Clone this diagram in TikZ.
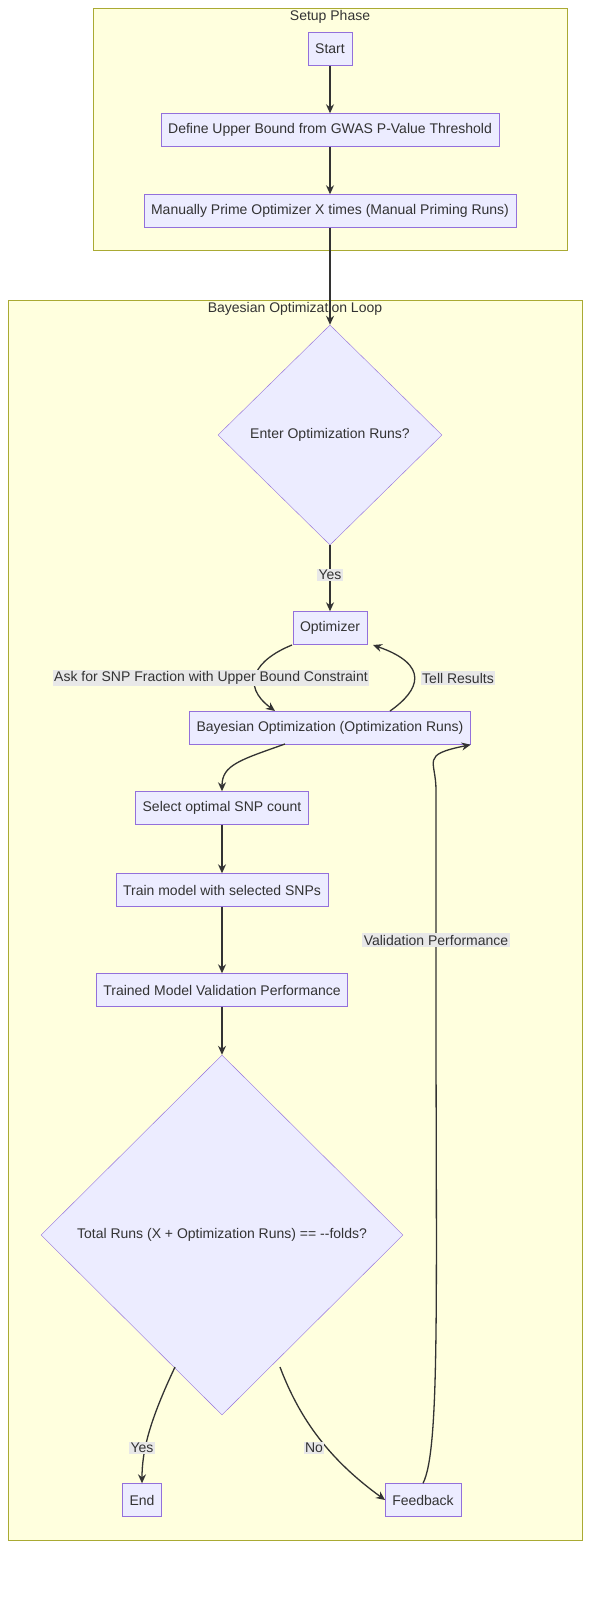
\documentclass[tikz,border=0pt]{standalone}
\usepackage{fontspec}
\setmainfont{Liberation Sans}
\usetikzlibrary{shapes.geometric,arrows.meta}
\definecolor{clf}{HTML}{FFFFDE}\definecolor{clb}{HTML}{AAAA33}
\definecolor{ndf}{HTML}{ECECFF}\definecolor{ndb}{HTML}{9370DB}
\definecolor{ln}{HTML}{333333}\definecolor{lbg}{HTML}{E8E8E8}
\begin{document}
\begin{tikzpicture}[x=1pt,y=-1pt,
  every node/.style={font=\fontsize{14}{16}\selectfont,text=ln},
  box/.style={draw=ndb,fill=ndf,minimum height=33pt,inner xsep=7pt},
  dia/.style={draw=ndb,fill=ndf,diamond,aspect=1,inner sep=0pt},
  clus/.style={draw=clb,fill=clf},
  lbl/.style={fill=lbg,inner sep=1.5pt},
  arr/.style={draw=ln,line width=1.3pt,-{Stealth[length=9pt,width=8pt]}}]
\useasboundingbox (0,0) rectangle (611,1602);
\draw[clus] (93,8) rectangle (567,250);
\node at (330,17) {Setup Phase};
\draw[clus] (8,300) rectangle (582,1540);
\node at (295,309) {Bayesian Optimization Loop};
\node[box] (start) at (330,49) {Start};
\node[box] (def) at (330,130) {Define Upper Bound from GWAS P-Value Threshold};
\node[box] (prime) at (330,211) {Manually Prime Optimizer X times (Manual Priming Runs)};
\node[dia,minimum width=224pt,minimum height=220pt] (d1) at (330,435) {Enter Optimization Runs?};
\node[box] (opt) at (330,628) {Optimizer};
\node[box] (bo) at (330,728) {Bayesian Optimization (Optimization Runs)};
\node[box] (sel) at (222,808) {Select optimal SNP count};
\node[box] (train) at (222,890) {Train model with selected SNPs};
\node[box] (tmv) at (222,990) {Trained Model Validation Performance};
\node[dia,minimum width=362pt,minimum height=360pt] (d2) at (222,1235) {Total Runs (X + Optimization Runs) == {-}{-}folds?};
\node[box] (end) at (142,1500) {End};
\node[box] (fb) at (423,1500) {Feedback};
\draw[arr] (start) -- (def);
\draw[arr] (def) -- (prime);
\draw[arr] (prime) -- (d1.north);
\draw[arr] (d1.south) -- node[lbl,pos=0.45]{Yes} (opt);
\draw[arr] (292,645) .. controls (255,660) and (240,685) .. (275,711);
\node[lbl] at (211,678) {Ask for SNP Fraction with Upper Bound Constraint};
\draw[arr] (390,711) .. controls (420,690) and (430,665) .. (373,645);
\node[lbl] at (458,678) {Tell Results};
\draw[arr] (285,744) .. controls (240,760) and (222,765) .. (sel.north);
\draw[arr] (sel) -- (train);
\draw[arr] (train) -- (tmv);
\draw[arr] (tmv) -- (d2.north);
\draw[arr] (175,1367) .. controls (150,1420) and (142,1450) .. (end.north);
\node[lbl] at (142,1448) {Yes};
\draw[arr] (280,1367) .. controls (300,1420) and (330,1460) .. (fb.west);
\node[lbl] at (314,1448) {No};
\draw[arr] (fb.north) .. controls (440,1450) and (436,1300) .. (436,1000) -- (436,790) .. controls (436,760) and (420,755) .. (bo.south east);
\node[lbl] at (436,940) {Validation Performance};
\end{tikzpicture}
\end{document}
